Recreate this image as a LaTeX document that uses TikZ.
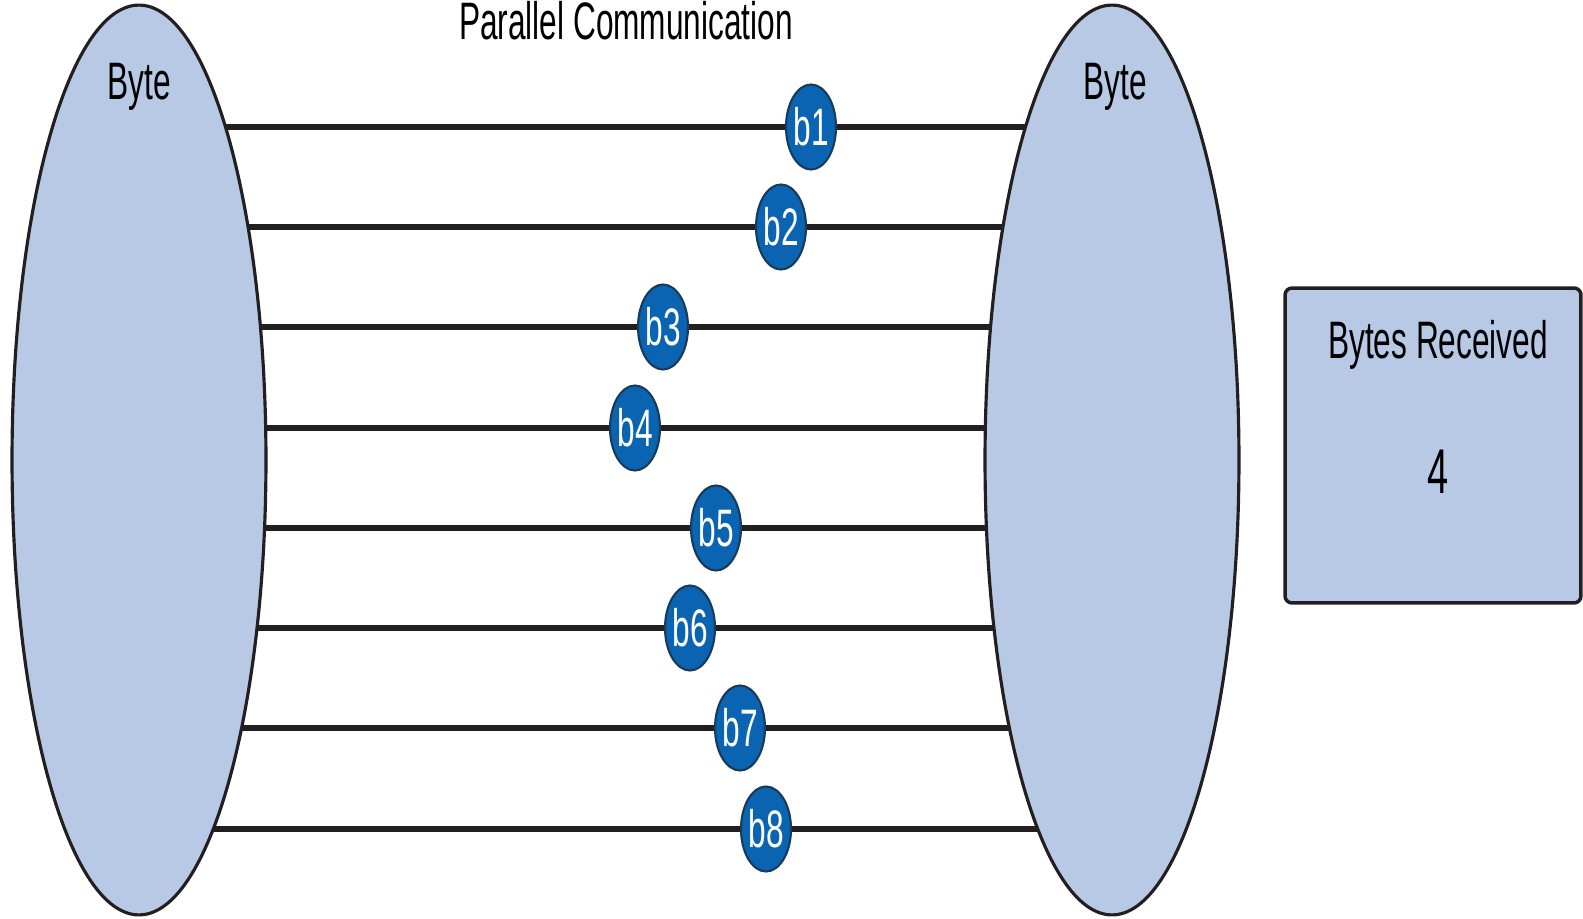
\documentclass[tikz,border=0pt]{standalone}
\usepackage{fontspec}
\setmainfont{Liberation Sans}[FakeStretch=0.6]
\usepackage{tikz}
\usetikzlibrary{shapes.geometric}

\definecolor{bytefill}{RGB}{184,201,230}
\definecolor{bitblue}{RGB}{10,100,178}
\definecolor{wire}{RGB}{35,31,32}

\newcommand{\bigfont}{\fontsize{30pt}{36pt}\selectfont}
\newcommand{\countfont}{\fontsize{36pt}{42pt}\selectfont}

\tikzset{
  bytepod/.style  = {ellipse, draw=wire, line width=1.8pt, fill=bytefill,
                     minimum width=5.08cm, minimum height=18.2cm},
  wireline/.style = {draw=wire, line width=3.6pt},
  bitnode/.style  = {ellipse, draw=wire!60!bitblue, line width=1.2pt, fill=bitblue,
                     text=white, inner sep=0pt, font=\bigfont,
                     minimum width=1cm, minimum height=1.7cm},
  caption/.style  = {anchor=base, inner sep=0pt, font=\bigfont},
}

\begin{document}
\begin{tikzpicture}[x=0.02cm, y=-0.02cm]

\clip (0,0) rectangle (1583,919);

% eight wires, one for every bit of the byte
\foreach \i/\y in {1/127, 2/227, 3/327, 4/428, 5/528, 6/628, 7/728, 8/829}
  {
    \coordinate (left\i) at (139,\y);
    \coordinate (right\i) at (1112,\y);
    \draw[wireline] (left\i) -- (right\i);
  }

%% sender and receiver
\node[bytepod] (sender) at (139,460) {};
\node[bytepod] (receiver) at (1112,460) {};
\path
(139,100) node [caption] (senderlabel) {Byte}
(1115,100) node [caption] (receiverlabel) {Byte};

\path
(626,40) node [caption] (title) {Parallel Communication};

%% bits on their way
\foreach \i/\x/\y in {1/811/127, 2/781/227, 3/663/327, 4/635/428,
                      5/716/528, 6/690/628, 7/740/728, 8/766/829}
  {
    \node[bitnode] (b\i) at (\x,\y) {b\i};
  }

% counter box
\node[draw=wire, line width=2pt, fill=bytefill, rounded corners=0.14cm,
      minimum width=5.92cm, minimum height=6.3cm] (counter) at (1433,445.5) {};
\path
(1438,358) node [caption] (countlabel) {Bytes Received}
(1438,493) node [caption, font=\countfont] (count) {4};

\end{tikzpicture}
\end{document}
